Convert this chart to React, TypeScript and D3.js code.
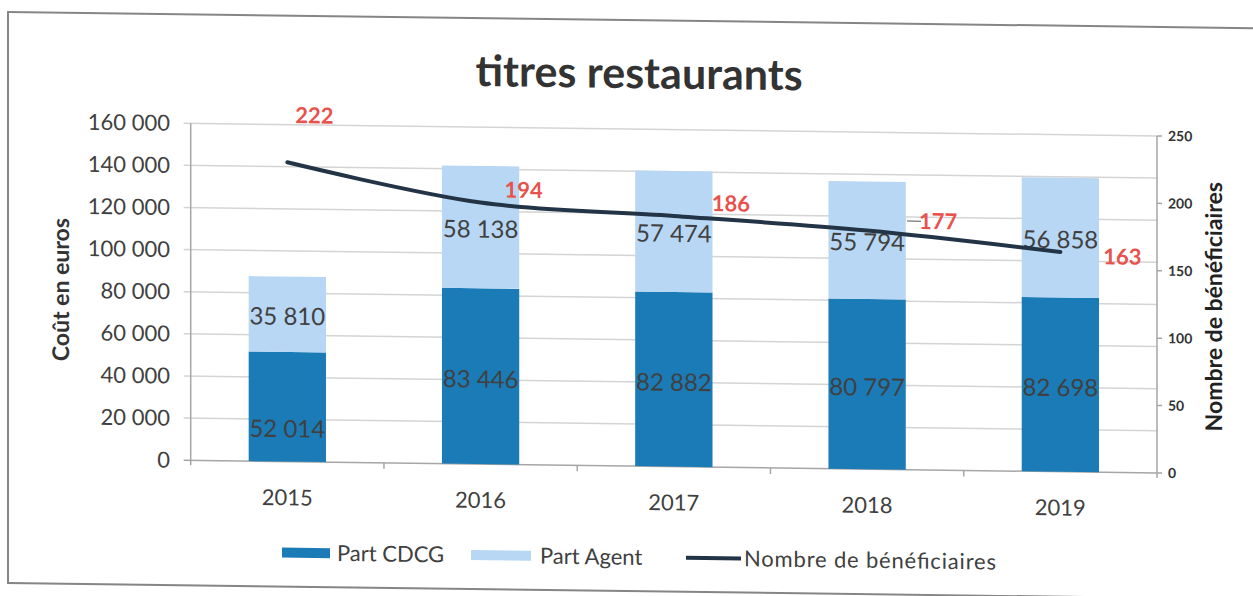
import React from 'react';
import * as d3 from 'd3';

const years = ['2015', '2016', '2017', '2018', '2019'];
const partCDCG = [52014, 83446, 82882, 80797, 82698];
const partAgent = [35810, 58138, 57474, 55794, 56858];
const beneficiaires = [222, 194, 186, 177, 163];

// hand placed label nudges, as in the original sheet
const cdcgLabelShift = [22, 3, 3, 3, 3];
const countLabelShift = [[27, -47], [43, -13], [57, -13], [71, -10], [62, 4]];

const W = 1253;
const H = 596;
const plot = { left: 190.7, right: 1157, top: 129, bottom: 466 };
const font = 'Lato, "Open Sans", sans-serif';
const cdcgColor = '#1b7bb6';
const agentColor = '#b7d7f4';
const lineColor = '#243447';
const redColor = '#e8524d';
const textColor = '#404040';

const fr = d3.formatLocale({ decimal: ',', thousands: '\u00a0', grouping: [3], currency: ['', ' €'] });
const fmt = fr.format(',d');

export default function App() {
  const table = years.map((y, i) => ({ year: y, cdcg: partCDCG[i], agent: partAgent[i] }));
  const series = d3.stack<any>().keys(['cdcg', 'agent'])(table);

  const x = d3.scaleBand().domain(years).range([plot.left, plot.right]).paddingInner(0.6).paddingOuter(0.3);
  const y = d3.scaleLinear().domain([0, 160000]).range([plot.bottom, plot.top]);
  const yR = d3.scaleLinear().domain([0, 250]).range([plot.bottom, plot.top]);
  const step = x.step();
  const cx = (yr: string) => (x(yr) as number) + x.bandwidth() / 2;

  const line = d3.line<number>()
    .x((_, i) => cx(years[i]))
    .y((d) => yR(d))
    .curve(d3.curveCatmullRom.alpha(0.5));

  return (
    <svg width={W} height={H} style={{ position: 'absolute', left: 0, top: 0, background: '#fff' }}>
      <g transform="translate(626,0) skewY(0.75) translate(-626,0)">
        <rect x={8} y={20} width={1300} height={571} fill="#fff" stroke="#858585" strokeWidth={2} />

        <text x={639} y={88} textAnchor="middle" fontFamily={font} fontWeight="bold" fontSize={43} fill="#333">
          titres restaurants
        </text>

        {/* grid + left axis */}
        {y.ticks(8).map((t) => (
          <g key={'g' + t}>
            <line x1={plot.left - 7} x2={plot.right} y1={y(t)} y2={y(t)} stroke={t === 0 ? '#a6a6a6' : '#d4d4d4'} strokeWidth={1.5} />
            <text x={170} y={y(t)} dy="0.35em" textAnchor="end" fontFamily={font} fontSize={22} fill={textColor}>
              {fmt(t)}
            </text>
          </g>
        ))}
        <line x1={plot.left} x2={plot.left} y1={plot.top} y2={plot.bottom + 5} stroke="#a6a6a6" strokeWidth={1.5} />
        <line x1={plot.right} x2={plot.right} y1={plot.top} y2={plot.bottom + 5} stroke="#a6a6a6" strokeWidth={1.5} />
        {yR.ticks(5).map((t) => (
          <g key={'r' + t}>
            <line x1={plot.right} x2={plot.right + 5} y1={yR(t)} y2={yR(t)} stroke="#a6a6a6" strokeWidth={1.5} />
            <text x={1168} y={yR(t)} dy="0.35em" fontFamily={font} fontWeight="bold" fontSize={14} fill="#333">
              {t}
            </text>
          </g>
        ))}
        {years.slice(1).map((yr) => (
          <line key={'xt' + yr} x1={(x(yr) as number) - (step - x.bandwidth()) / 2} x2={(x(yr) as number) - (step - x.bandwidth()) / 2}
            y1={plot.bottom} y2={plot.bottom + 6} stroke="#a6a6a6" strokeWidth={1.5} />
        ))}

        {/* bars */}
        {series.map((s, si) =>
          s.map((d, i) => (
            <rect key={s.key + i} x={x(years[i])} width={x.bandwidth()} y={y(d[1])} height={y(d[0]) - y(d[1])}
              fill={si === 0 ? cdcgColor : agentColor} />
          ))
        )}
        {series.map((s, si) =>
          s.map((d, i) => (
            <text key={'l' + s.key + i} x={cx(years[i])} y={(y(d[0]) + y(d[1])) / 2 + (si === 0 ? cdcgLabelShift[i] : 2)}
              dy="0.35em" textAnchor="middle" fontFamily={font} fontSize={24} fill={textColor}>
              {fmt(d[1] - d[0])}
            </text>
          ))
        )}

        {/* beneficiaires line */}
        <path d={line(beneficiaires) as string} fill="none" stroke={lineColor} strokeWidth={4} strokeLinecap="round" />
        {beneficiaires.map((v, i) => (
          <text key={'b' + i} x={cx(years[i]) + countLabelShift[i][0]} y={yR(v) + countLabelShift[i][1]} dy="0.35em"
            textAnchor="middle" fontFamily={font} fontWeight="bold" fontSize={22} fill={redColor}>
            {v}
          </text>
        ))}
        <line x1={907} x2={921} y1={yR(beneficiaires[3]) - 10} y2={yR(beneficiaires[3]) - 10} stroke="#555" strokeWidth={1} />

        {/* x labels */}
        {years.map((yr) => (
          <text key={'x' + yr} x={cx(yr)} y={502} dy="0.35em" textAnchor="middle" fontFamily={font} fontSize={22} fill={textColor}>
            {yr}
          </text>
        ))}

        {/* axis titles */}
        <text transform="translate(61,297) rotate(-90)" textAnchor="middle" dy="0.35em" fontFamily={font} fontWeight="bold" fontSize={23} fill="#333">
          Coût en euros
        </text>
        <text transform="translate(1214,299) rotate(-90)" textAnchor="middle" dy="0.35em" fontFamily={font} fontWeight="bold" fontSize={23} fill="#222">
          Nombre de bénéficiaires
        </text>

        {/* legend */}
        <rect x={282} y={552} width={48} height={10} fill={cdcgColor} />
        <text x={337} y={557} dy="0.35em" fontFamily={font} fontSize={22} fill={textColor}>Part CDCG</text>
        <rect x={471} y={552} width={60} height={10} fill={agentColor} />
        <text x={540} y={557} dy="0.35em" fontFamily={font} fontSize={22} fill={textColor}>Part Agent</text>
        <line x1={686} x2={741} y1={557} y2={557} stroke={lineColor} strokeWidth={4} />
        <text x={744} y={557} dy="0.35em" fontFamily={font} fontSize={22} fill={textColor} textLength={252}>Nombre de bénéficiaires</text>
      </g>
    </svg>
  );
}
